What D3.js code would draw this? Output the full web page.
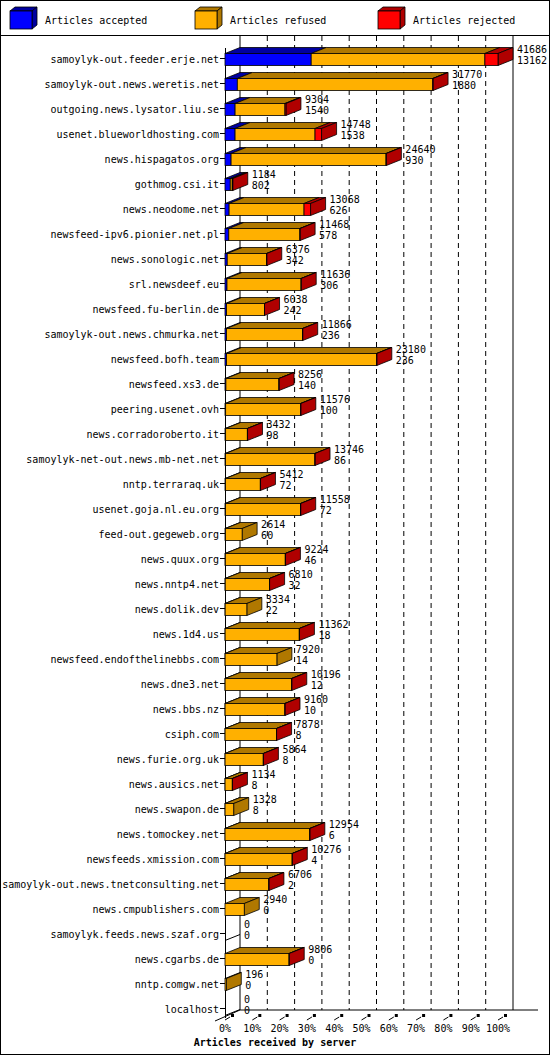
<!DOCTYPE html>
<html><head><meta charset="utf-8">
<script src="https://cdn.jsdelivr.net/npm/d3@7/dist/d3.min.js"></script>
<style>body{margin:0;background:#fff}text{font-family:"DejaVu Sans Mono",monospace;font-size:10px}</style>
</head><body><svg id="c" width="550" height="1055"></svg>
<script>
const servers=["samoylyk-out.feeder.erje.net","samoylyk-out.news.weretis.net","outgoing.news.lysator.liu.se","usenet.blueworldhosting.com","news.hispagatos.org","gothmog.csi.it","news.neodome.net","newsfeed-ipv6.pionier.net.pl","news.sonologic.net","srl.newsdeef.eu","newsfeed.fu-berlin.de","samoylyk-out.news.chmurka.net","newsfeed.bofh.team","newsfeed.xs3.de","peering.usenet.ovh","news.corradoroberto.it","samoylyk-net-out.news.mb-net.net","nntp.terraraq.uk","usenet.goja.nl.eu.org","feed-out.gegeweb.org","news.quux.org","news.nntp4.net","news.dolik.dev","news.1d4.us","newsfeed.endofthelinebbs.com","news.dne3.net","news.bbs.nz","csiph.com","news.furie.org.uk","news.ausics.net","news.swapon.de","news.tomockey.net","newsfeeds.xmission.com","samoylyk-out.news.tnetconsulting.net","news.cmpublishers.com","samoylyk.feeds.news.szaf.org","news.cgarbs.de","nntp.comgw.net","localhost"];
const offered=[41686,31770,9304,14748,24640,1184,13068,11468,6376,11636,6038,11866,23180,8256,11576,3432,13746,5412,11558,2614,9224,6810,3334,11362,7920,10196,9160,7878,5864,1134,1328,12954,10276,6706,2940,0,9806,196,0];
const accepted=[13162,1880,1540,1538,930,802,626,578,342,306,242,236,236,140,100,98,86,72,72,60,46,32,22,18,14,12,10,8,8,8,8,6,4,2,0,0,0,0,0];
const rejected=[2000,50,150,1000,50,82,1000,30,20,20,20,20,20,20,20,20,20,20,20,0,20,20,0,20,0,20,20,20,20,20,0,20,20,20,0,0,20,0,0];
const ticks=["0%","10%","20%","30%","40%","50%","60%","70%","80%","90%","100%"];
const legend=["Articles accepted","Articles refused","Articles rejected"];
const cols=[["#0000ff","#0000a0"],["#ffb000","#b07800"],["#ff0000","#b00000"]];

const svg=d3.select("#c");
svg.append("rect").attr("x",0.5).attr("y",0.5).attr("width",549).attr("height",1054).attr("fill","none").attr("stroke","#000");
svg.append("line").attr("x1",0).attr("x2",550).attr("y1",35.5).attr("y2",35.5).attr("stroke","#000");
const DX=15,DY=-6;
function box(g,x,y,w,h,dx,dy,c,showRight){
  g.append("path").attr("d",`M${x},${y}L${x+dx},${y+dy}L${x+w+dx},${y+dy}L${x+w},${y}Z`).attr("fill",c[1]).attr("stroke","#000").attr("stroke-width",0.8);
  if(showRight) g.append("path").attr("d",`M${x+w},${y}L${x+w+dx},${y+dy}L${x+w+dx},${y+h+dy}L${x+w},${y+h}Z`).attr("fill",c[1]).attr("stroke","#000").attr("stroke-width",0.8);
  g.append("rect").attr("x",x).attr("y",y).attr("width",w).attr("height",h).attr("fill",c[0]).attr("stroke","#000").attr("stroke-width",0.8);
}
[10,195,378].forEach((lx,i)=>{
  const g=svg.append("g");
  box(g,lx,11,22,18,5,-4,cols[i],true);
  g.append("text").attr("x",lx+35).attr("y",24).text(legend[i]);
});
const x=d3.scaleLinear().domain([0,d3.max(offered)]).range([225,498]);
const xp=d3.scaleLinear().domain([0,100]).range([225,498]);
const y=d3.scaleBand().domain(servers).range([46,1021]);
const floorY=1018;
const grid=svg.append("g");
ticks.forEach((t,i)=>{
  const bx=xp(i*10)+DX;
  grid.append("line").attr("x1",bx).attr("x2",bx).attr("y1",36).attr("y2",floorY+DY-2)
   .attr("stroke","#000").attr("stroke-dasharray",(i==0||i==10)?null:"5,4");
});
grid.append("line").attr("x1",225.5).attr("x2",225.5).attr("y1",48).attr("y2",floorY).attr("stroke","#000");
grid.append("path").attr("d",`M${215},${floorY+3}L${xp(0)+DX},${floorY+DY-2}L${xp(100)+DX+25},${floorY+DY-2}`).attr("fill","none").attr("stroke","#000");
ticks.forEach((t,i)=>{
  const fx=xp(i*10);
  grid.append("line").attr("x1",fx).attr("x2",fx+5).attr("y1",floorY+2).attr("y2",floorY-1).attr("stroke","#000");
  grid.append("rect").attr("x",fx+6).attr("y",floorY-4).attr("width",3).attr("height",3).attr("fill","#000");
  grid.append("text").attr("x",fx).attr("y",floorY+14).attr("text-anchor","middle").text(t);
});
svg.append("text").attr("x",275).attr("y",1046).attr("text-anchor","middle").attr("font-weight","bold").text("Articles received by server");
servers.forEach((s,i)=>{
  const g=svg.append("g");
  const yc=y(s)+y.bandwidth()/2, top=yc-5, h=12;
  g.append("line").attr("x1",220).attr("x2",225).attr("y1",yc).attr("y2",yc).attr("stroke","#000");
  g.append("text").attr("x",219).attr("y",yc+4).attr("text-anchor","end").text(s);
  const refused=offered[i]-accepted[i]-rejected[i];
  const segs=[accepted[i],refused,rejected[i]];
  let acc=0;
  const last=segs.reduce((l,v,k)=>v>0?k:l,-1);
  if(offered[i]===0){
    g.append("line").attr("x1",225).attr("y1",top+h).attr("x2",225+DX).attr("y2",top+h+DY).attr("stroke","#000");
  }
  segs.forEach((v,k)=>{
    if(v<=0)return;
    const x0=x(acc),x1=x(acc+v); acc+=v;
    box(g,x0,top,x1-x0,h,DX,DY,cols[k],k===last);
  });
  const ex=x(offered[i])+DX+4;
  g.append("text").attr("x",ex).attr("y",top-1).text(offered[i]);
  g.append("text").attr("x",ex).attr("y",top+10).text(accepted[i]);
});
</script></body></html>
